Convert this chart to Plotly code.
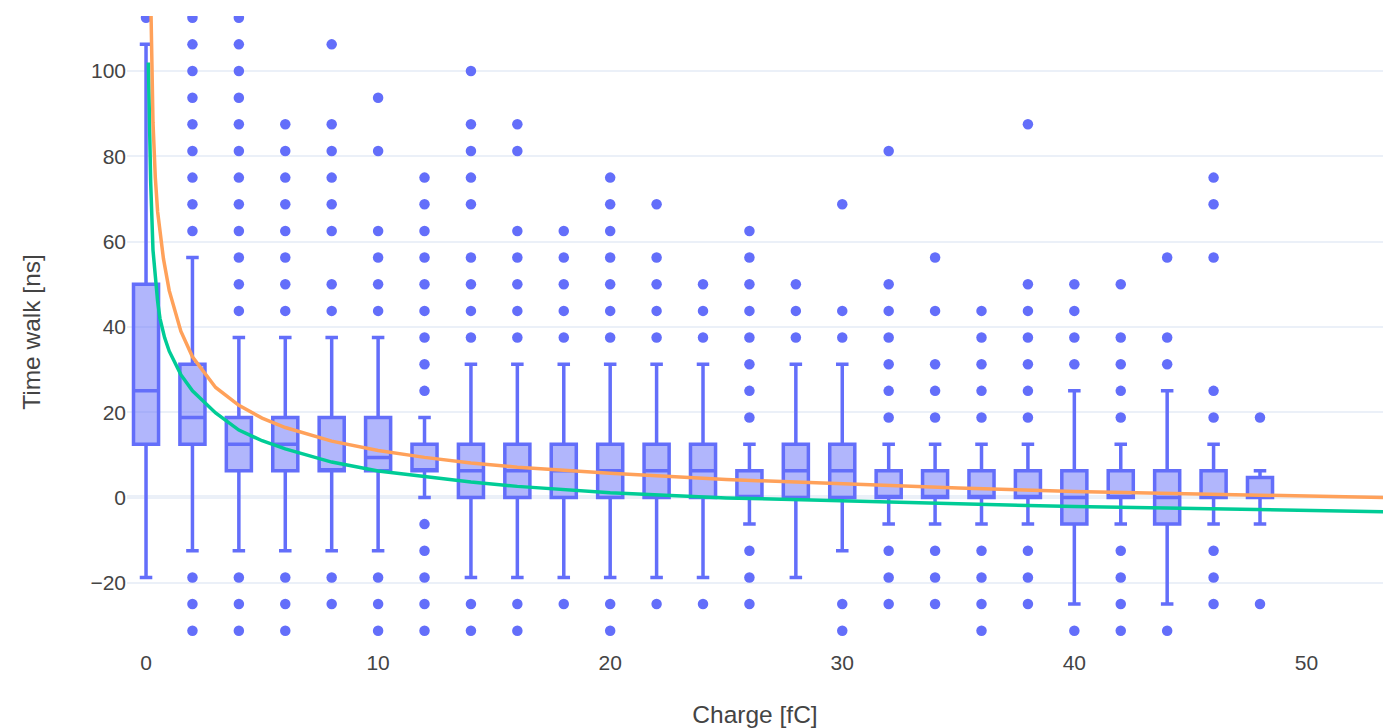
import plotly.graph_objects as go

# Charge bins (fC) and the box statistics of the time walk (ns) in each bin
charge = [0, 2, 4, 6, 8, 10, 12, 14, 16, 18, 20, 22, 24,
          26, 28, 30, 32, 34, 36, 38, 40, 42, 44, 46, 48]
q1 = [12.5, 12.5, 6.25, 6.25, 6.25, 6.25, 6.25, 0, 0, 0, 0, 0, 0,
      0, 0, 0, 0, 0, 0, 0, -6.25, 0, -6.25, 0, 0]
median = [25, 18.75, 12.5, 12.5, 6.25, 9.375, 6.25, 6.25, 6.25, 6.25, 6.25, 6.25, 6.25,
          0, 6.25, 6.25, 0, 0, 0, 0, 0, 0, 0, 0, 0]
q3 = [50, 31.25, 18.75, 18.75, 18.75, 18.75, 12.5, 12.5, 12.5, 12.5, 12.5, 12.5, 12.5,
      6.25, 12.5, 12.5, 6.25, 6.25, 6.25, 6.25, 6.25, 6.25, 6.25, 6.25, 4.6875]
lower_fence = [-18.75, -12.5, -12.5, -12.5, -12.5, -12.5, 0, -18.75, -18.75, -18.75, -18.75, -18.75, -18.75,
               -6.25, -18.75, -12.5, -6.25, -6.25, -6.25, -6.25, -25, -6.25, -25, -6.25, -6.25]
upper_fence = [106.25, 56.25, 37.5, 37.5, 37.5, 37.5, 18.75, 31.25, 31.25, 31.25, 31.25, 31.25, 31.25,
               12.5, 31.25, 31.25, 12.5, 12.5, 12.5, 12.5, 25, 12.5, 25, 12.5, 6.25]

# Outlying time-walk values in each charge bin
outliers = [
    [112.5],
    [62.5, 68.75, 75, 81.25, 87.5, 93.75, 100, 106.25, 112.5, -18.75, -25, -31.25],
    [43.75, 50, 56.25, 62.5, 68.75, 75, 81.25, 87.5, 93.75, 100, 106.25, 112.5, -18.75, -25, -31.25],
    [43.75, 50, 56.25, 62.5, 68.75, 75, 81.25, 87.5, -18.75, -25, -31.25],
    [43.75, 50, 62.5, 68.75, 75, 81.25, 87.5, 106.25, -18.75, -25],
    [43.75, 50, 56.25, 62.5, 81.25, 93.75, -18.75, -25, -31.25],
    [25, 31.25, 37.5, 43.75, 50, 56.25, 62.5, 68.75, 75, -6.25, -12.5, -18.75, -25, -31.25],
    [37.5, 43.75, 50, 56.25, 68.75, 75, 81.25, 87.5, 100, -25, -31.25],
    [37.5, 43.75, 50, 56.25, 62.5, 81.25, 87.5, -25, -31.25],
    [37.5, 43.75, 50, 56.25, 62.5, -25],
    [37.5, 43.75, 50, 56.25, 62.5, 68.75, 75, -25, -31.25],
    [37.5, 43.75, 50, 56.25, 68.75, -25],
    [37.5, 43.75, 50, -25],
    [18.75, 25, 31.25, 37.5, 43.75, 50, 56.25, 62.5, -12.5, -18.75, -25],
    [37.5, 43.75, 50],
    [37.5, 43.75, 68.75, -25, -31.25],
    [18.75, 25, 31.25, 37.5, 43.75, 50, 81.25, -12.5, -18.75, -25],
    [18.75, 25, 31.25, 43.75, 56.25, -12.5, -18.75, -25],
    [18.75, 25, 31.25, 37.5, 43.75, -12.5, -18.75, -25, -31.25],
    [18.75, 25, 31.25, 37.5, 43.75, 50, 87.5, -12.5, -18.75, -25],
    [31.25, 37.5, 43.75, 50, -31.25],
    [18.75, 25, 31.25, 37.5, 50, -12.5, -18.75, -25, -31.25],
    [31.25, 37.5, 56.25, -31.25],
    [18.75, 25, 56.25, 68.75, 75, -12.5, -18.75, -25],
    [18.75, -25],
]

# Fitted time-walk curves
fit_a_charge = [0.2, 0.3, 0.4, 0.5, 0.75, 1, 1.5, 2, 3, 4, 5, 6, 8, 10, 12, 14, 16,
                20, 25, 30, 35, 40, 45, 50, 54]
fit_a_walk = [118, 88, 75, 67, 56, 48.5, 39, 33, 25.8, 21.6, 18.6, 16.4, 13.2, 11, 9.4, 8.1, 7.1,
              5.7, 4.2, 3.1, 2.2, 1.4, 0.8, 0.3, -0.1]
fit_b_charge = [0.1, 0.15, 0.2, 0.3, 0.4, 0.5, 0.6, 0.8, 1, 1.5, 2, 3, 4, 5, 6, 8, 10, 12, 14, 16,
                20, 25, 30, 35, 40, 45, 50, 54]
fit_b_walk = [102, 86, 74, 58, 51, 46, 42, 37.5, 34.3, 28.8, 25, 19.8, 15.8, 13.3, 11.4, 8.3, 6.2, 4.8,
              3.6, 2.6, 1.1, -0.1, -0.9, -1.5, -2.1, -2.6, -3.1, -3.4]

BLUE = "#636efa"
S = 1.75  # rendering scale

out_x = [c for c, vals in zip(charge, outliers) for _ in vals]
out_y = [v for vals in outliers for v in vals]

fig = go.Figure()
fig.add_trace(go.Box(
    x=charge, q1=q1, median=median, q3=q3,
    lowerfence=lower_fence, upperfence=upper_fence,
    width=1.08, whiskerwidth=0.5,
    line=dict(color=BLUE, width=2 * S),
    fillcolor="rgba(99,110,250,0.5)",
    boxpoints=False, name="data",
))
fig.add_trace(go.Scatter(
    x=out_x, y=out_y, mode="markers",
    marker=dict(color=BLUE, size=6 * S), name="outliers",
))
fig.add_trace(go.Scatter(
    x=fit_b_charge, y=fit_b_walk, mode="lines",
    line=dict(color="#00cc96", width=2 * S), name="fit 2",
))
fig.add_trace(go.Scatter(
    x=fit_a_charge, y=fit_a_walk, mode="lines",
    line=dict(color="#FFA15A", width=2 * S), name="fit 1",
))

fig.update_layout(
    template="plotly_white",
    width=1383, height=728,
    margin=dict(l=127, r=0, t=16, b=80),
    showlegend=False,
    font=dict(family="Arial, Liberation Sans, sans-serif", size=12 * S, color="#444444"),
    xaxis=dict(
        title=dict(text="Charge [fC]", font=dict(size=14 * S), standoff=32),
        range=[-0.82, 53.3], dtick=10, showgrid=False, zeroline=False,
        automargin=False,
    ),
    yaxis=dict(
        title=dict(text="Time walk [ns]", font=dict(size=14 * S), standoff=42),
        range=[-35.3, 112.9], dtick=20,
        gridcolor="#EBF0F8", gridwidth=1 * S,
        zeroline=True, zerolinecolor="#EBF0F8", zerolinewidth=2 * S,
        automargin=False,
    ),
)

fig.write_html("out.html")
